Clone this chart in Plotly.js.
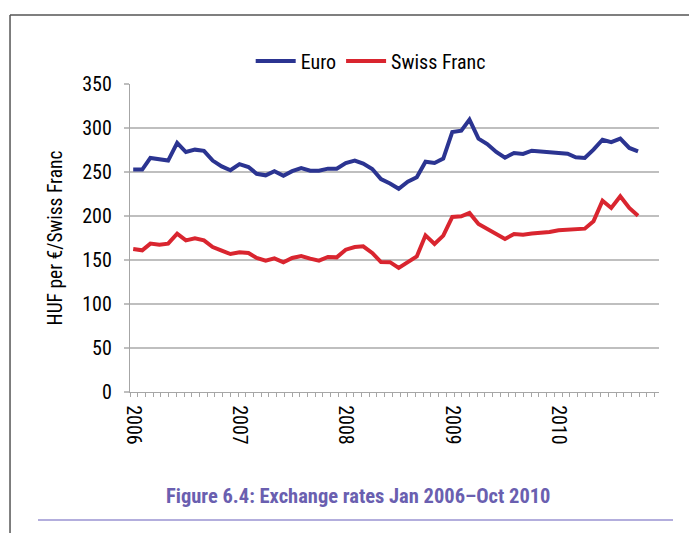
<!DOCTYPE html>
<html>
<head>
<meta charset="utf-8">
<script src="https://cdn.plot.ly/plotly-3.0.1.min.js"></script>
<style>
  html, body { margin: 0; padding: 0; background: #ffffff; }
  #chart { width: 689px; height: 533px; }
</style>
</head>
<body>
<div id="chart"></div>
<script>
// Monthly observations Jan 2006 – Oct 2010
var startYear = 2006;
var monthCount = 58;
var months = [];
for (var i = 0; i < monthCount; i++) {
  var y = startYear + Math.floor(i / 12);
  var m = (i % 12) + 1;
  months.push(y + '-' + (m < 10 ? '0' + m : m) + '-01');
}

var seriesNames = ['Euro', 'Swiss Franc'];

var euro = [252.7, 252.7, 266, 264, 263, 283, 272.7, 275.4, 274, 263, 256.4, 252,
            259, 255.7, 248, 246.2, 250.8, 245.8, 251, 254.5, 251.5, 251.5, 253.8, 253.8,
            260.2, 262.9, 259.5, 253.4, 242, 237, 231, 239, 244, 261.7, 260.2, 265.2,
            295.5, 297, 309.5, 287.9, 281.8, 272.7, 266.3, 271.6, 270.5, 274.2, 273.5, 272.3,
            271.6, 270.8, 266.7, 265.9, 275.4, 286.7, 284, 287.9, 277.3, 273.5];

var swissFranc = [162.5, 161, 168.6, 167.4, 168.6, 180, 172.3, 174.6, 172.3, 164.8, 160.6, 156.8,
                  158.7, 158, 152.3, 149.2, 151.9, 147.3, 152.3, 154.5, 151.5, 149.2, 153.4, 153,
                  161.7, 164.8, 165.5, 158, 147.7, 147.5, 141, 147.3, 154, 178, 168.2, 177.7,
                  198.9, 199.6, 203.4, 191, 185.6, 178.8, 173.9, 179.5, 178.8, 180, 180.7, 181.8,
                  183.7, 184.5, 185.6, 185.6, 193.9, 217.4, 209.1, 222.3, 209.1, 200.4];

var yTitle = 'HUF per €/Swiss Franc';
var caption = 'Figure 6.4: Exchange rates Jan 2006–Oct 2010';

var FONT = '"Roboto Condensed", "Liberation Sans", Arial, sans-serif';

var traces = [
  { x: months, y: euro, name: seriesNames[0], type: 'scatter', mode: 'lines',
    line: { color: '#2b3491', width: 4 } },
  { x: months, y: swissFranc, name: seriesNames[1], type: 'scatter', mode: 'lines',
    line: { color: '#d9252f', width: 4 } }
];

var layout = {
  width: 689, height: 533,
  margin: { l: 130, r: 30, t: 84, b: 141, pad: 0 },
  paper_bgcolor: '#ffffff', plot_bgcolor: '#ffffff',
  font: { family: FONT, size: 20, color: '#000000' },
  showlegend: true,
  legend: {
    orientation: 'h', x: 0.455, xanchor: 'center', y: 1.075, yanchor: 'middle',
    font: { family: FONT, size: 20, color: '#000000' },
    itemwidth: 40, tracegroupgap: 0, bgcolor: 'rgba(0,0,0,0)'
  },
  title: {
    text: '<b>' + caption + '</b>',
    font: { family: FONT, size: 20.5, color: '#6a5fb0' },
    x: 0.52, xanchor: 'center', xref: 'container',
    y: 0.0694, yanchor: 'middle', yref: 'container'
  },
  xaxis: {
    type: 'date',
    range: ['2005-12-21', '2010-12-12'],
    tick0: '2006-01-01', dtick: 'M12', tickformat: '%Y',
    tickangle: 90, ticks: '', showgrid: false, zeroline: false,
    showline: true, linecolor: '#a6a6a6', linewidth: 1.2,
    tickfont: { family: FONT, size: 20, color: '#000000' },
    ticklabelstandoff: 8,
    minor: { ticks: 'outside', ticklen: 4, tickwidth: 1, tickcolor: '#a6a6a6',
             tick0: '2005-12-21', dtick: 2289600000, showgrid: false }
  },
  yaxis: {
    range: [0, 350], dtick: 50, tick0: 0,
    showgrid: true, gridcolor: '#bfbfbf', gridwidth: 1.5,
    zeroline: false, showline: true, linecolor: '#a6a6a6', linewidth: 1.2,
    ticks: 'outside', ticklen: 5, tickcolor: '#bfbfbf', tickwidth: 1.5,
    tickfont: { family: FONT, size: 20, color: '#000000' },
    ticklabelstandoff: 8,
    title: { text: yTitle, font: { family: FONT, size: 19.5, color: '#000000' }, standoff: 14 }
  },
  shapes: [
    { type: 'line', xref: 'paper', yref: 'paper', x0: -0.2268, x1: -0.2268, y0: 1.224, y1: -0.47,
      line: { color: '#555555', width: 1.5 } },
    { type: 'line', xref: 'paper', yref: 'paper', x0: -0.2268, x1: 1.07, y0: 1.224, y1: 1.224,
      line: { color: '#555555', width: 1.5 } },
    { type: 'line', xref: 'paper', yref: 'paper', x0: -0.1739, x1: 1.0265, y0: -0.4156, y1: -0.4156,
      line: { color: '#9a93d2', width: 1.5 } }
  ]
};

Plotly.newPlot('chart', traces, layout, { staticPlot: true, displayModeBar: false });
</script>
</body>
</html>
